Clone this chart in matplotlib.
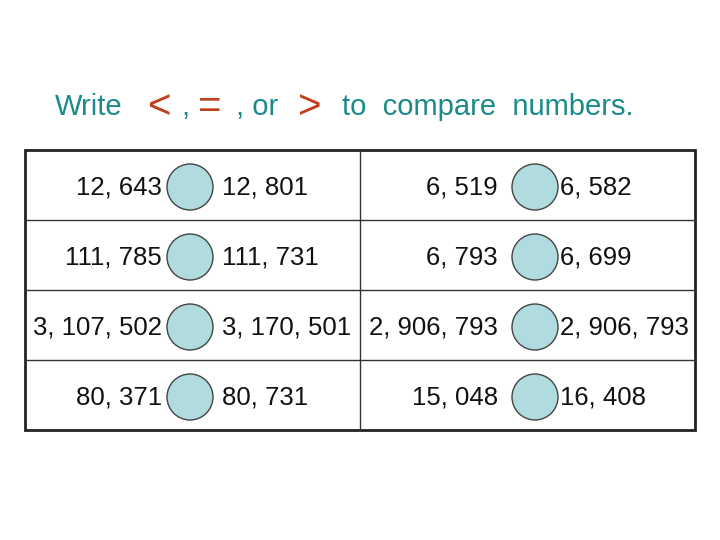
import matplotlib.pyplot as plt
from matplotlib.patches import Circle, Rectangle

left_nums = ['12, 643', '111, 785', '3, 107, 502', '80, 371']
left_nums2 = ['12, 801', '111, 731', '3, 170, 501', '80, 731']
right_nums = ['6, 519', '6, 793', '2, 906, 793', '15, 048']
right_nums2 = ['6, 582', '6, 699', '2, 906, 793', '16, 408']

teal = '#1a8a8a'
rust = '#c0401a'

fig = plt.figure(figsize=(7.2, 5.4), dpi=100)
ax = fig.add_axes([0, 0, 1, 1])
ax.set_xlim(0, 720)
ax.set_ylim(540, 0)
ax.axis('off')

# title, built piece by piece
parts = [(55, 'Write', teal, 21), (148, '<', rust, 29), (181, ',', teal, 21),
         (198, '=', rust, 29), (236, ', or', teal, 21), (298, '>', rust, 29),
         (342, 'to  compare  numbers.', teal, 21)]
for x, s, c, fs in parts:
    ax.text(x, 107, s, color=c, fontsize=fs, ha='left', va='center', family='Liberation Sans')

# table
ax.add_patch(Rectangle((25, 150), 670, 280, fill=False, lw=2, ec='#222222'))
for y in [220, 290, 360]:
    ax.plot([25, 695], [y, y], color='#333333', lw=1)
ax.plot([360, 360], [150, 430], color='#333333', lw=1)

for i in range(4):
    yc = 187 + i * 70
    for cx in [190, 535]:
        ax.add_patch(Circle((cx, yc), 23, fc='#b0dce0', ec='#444444', lw=1))
    kw = dict(fontsize=18.5, va='center', family='Liberation Sans', color='#111111')
    ax.text(162, yc, left_nums[i], ha='right', **kw)
    ax.text(222, yc, left_nums2[i], ha='left', **kw)
    ax.text(498, yc, right_nums[i], ha='right', **kw)
    ax.text(560, yc, right_nums2[i], ha='left', **kw)

fig.savefig('out.png', dpi=100)
